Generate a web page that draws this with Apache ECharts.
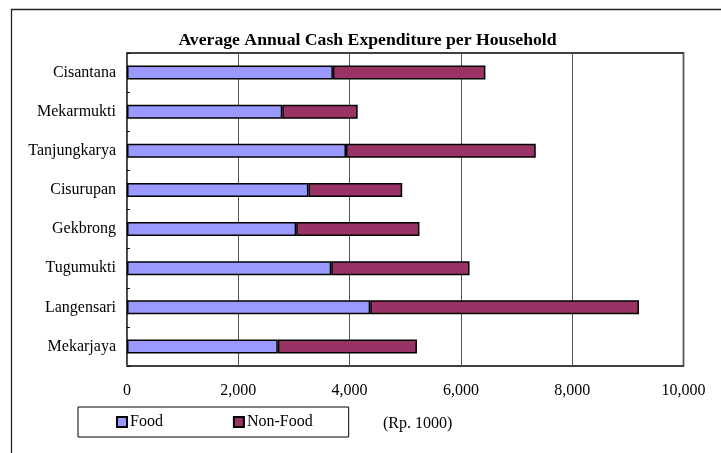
<!DOCTYPE html>
<html>
<head>
<meta charset="utf-8">
<script src="https://cdn.jsdelivr.net/npm/echarts@6/dist/echarts.min.js"></script>
<style>
  html, body { margin: 0; padding: 0; background: #fff; }
  #chart { width: 721px; height: 453px; }
</style>
</head>
<body>
<div id="chart"></div>
<script>
// Villages, listed top to bottom
const villages = ['Cisantana', 'Mekarmukti', 'Tanjungkarya', 'Cisurupan', 'Gekbrong', 'Tugumukti', 'Langensari', 'Mekarjaya'];
// Average annual cash expenditure per household (Rp. 1000)
const food    = [3700, 2790, 3935, 3260, 3040, 3670, 4370, 2710];
const nonFood = [2740, 1355, 3410, 1685, 2215, 2485, 4830, 2500];
// Value axis tick labels
const tickValues = [0, 2000, 4000, 6000, 8000, 10000];
const tickLabels = ['0', '2,000', '4,000', '6,000', '8,000', '10,000'];

const serif = '"Liberation Serif", "DejaVu Serif", serif';
const chart = echarts.init(document.getElementById('chart'), null, { renderer: 'canvas' });

chart.setOption({
  animation: false,
  backgroundColor: '#fff',
  grid: {
    left: 127, right: 37.5, top: 53, bottom: 87,
    show: true, borderColor: '#000', borderWidth: 1.5, backgroundColor: 'transparent'
  },
  legend: {
    left: 78, top: 407,
    orient: 'horizontal',
    padding: [7, 36, 7, 38],
    itemGap: 70,
    itemWidth: 10, itemHeight: 10,
    borderColor: '#000', borderWidth: 1,
    icon: 'rect',
    textStyle: { fontFamily: serif, fontSize: 16, color: '#000', padding: [0, 0, 0, -2] },
    data: ['Food', 'Non-Food']
  },
  xAxis: {
    type: 'value', min: 0, max: 10000, interval: 2000,
    axisLine: { show: false },
    axisTick: { show: false },
    splitLine: { show: true, lineStyle: { color: '#555', width: 1 } },
    axisLabel: {
      margin: 17, color: '#000', fontFamily: serif, fontSize: 16,
      formatter: v => tickLabels[tickValues.indexOf(v)]
    }
  },
  yAxis: {
    type: 'category', data: villages, inverse: true,
    axisLine: { show: false },
    axisTick: { show: true, inside: true, length: 3, lineStyle: { color: '#000', width: 1 } },
    axisLabel: { margin: 11, color: '#000', fontFamily: serif, fontSize: 16 }
  },
  series: [
    {
      name: 'Food', type: 'bar', stack: 'exp', data: food, barWidth: 14,
      itemStyle: { color: '#9999FF', borderColor: '#000', borderWidth: 1.5 }
    },
    {
      name: 'Non-Food', type: 'bar', stack: 'exp', data: nonFood, barWidth: 14,
      itemStyle: { color: '#993366', borderColor: '#000', borderWidth: 1.5 }
    }
  ],
  graphic: [
    {
      type: 'rect', silent: true, z: -1,
      shape: { x: 11.5, y: 9.5, width: 800, height: 600 },
      style: { fill: 'none', stroke: '#222', lineWidth: 1.3 }
    },
    {
      type: 'text', silent: true,
      style: {
        x: 367.5, y: 40, text: 'Average Annual Cash Expenditure per Household',
        align: 'center', verticalAlign: 'middle',
        fontFamily: serif, fontWeight: 'bold', fontSize: 17.7, fill: '#000'
      }
    },
    {
      type: 'text', silent: true,
      style: {
        x: 383, y: 424, text: '(Rp. 1000)',
        align: 'left', verticalAlign: 'middle',
        fontFamily: serif, fontSize: 16, fill: '#000'
      }
    }
  ]
});
</script>
</body>
</html>
